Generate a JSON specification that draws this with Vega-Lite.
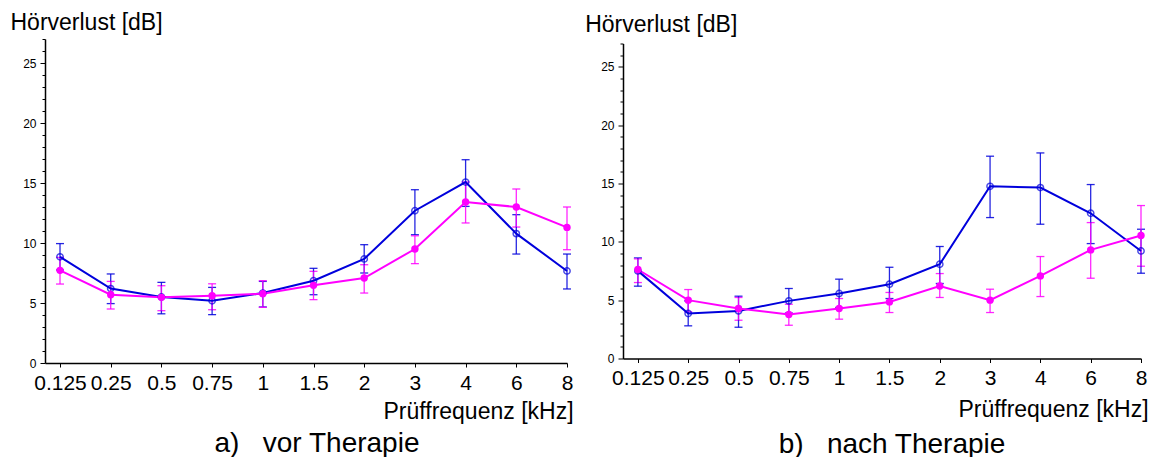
{
  "$schema": "https://vega.github.io/schema/vega-lite/v6.json",
  "background": "white",
  "padding": {"left": 10, "top": 11, "right": 2, "bottom": 0},
  "config": {
    "font": "Liberation Sans",
    "view": {"stroke": null},
    "axis": {"grid": false, "domainColor": "black", "tickColor": "black", "labelColor": "black", "titleColor": "black", "titleFontWeight": "normal", "labelFlush": false, "labelOverlap": false},
    "title": {"fontWeight": "normal", "color": "black"}
  },
  "datasets": {
    "messwerte": [
      {"panel": "a", "gruppe": "Gruppe 1", "freq": "0.125", "value": 8.85, "lo": 7.75, "hi": 9.95},
      {"panel": "a", "gruppe": "Gruppe 1", "freq": "0.25", "value": 6.2, "lo": 4.95, "hi": 7.42},
      {"panel": "a", "gruppe": "Gruppe 1", "freq": "0.5", "value": 5.5, "lo": 4.1, "hi": 6.72},
      {"panel": "a", "gruppe": "Gruppe 1", "freq": "0.75", "value": 5.19, "lo": 4.03, "hi": 6.3},
      {"panel": "a", "gruppe": "Gruppe 1", "freq": "1", "value": 5.83, "lo": 4.67, "hi": 6.8},
      {"panel": "a", "gruppe": "Gruppe 1", "freq": "1.5", "value": 6.86, "lo": 5.69, "hi": 7.89},
      {"panel": "a", "gruppe": "Gruppe 1", "freq": "2", "value": 8.67, "lo": 7.5, "hi": 9.86},
      {"panel": "a", "gruppe": "Gruppe 1", "freq": "3", "value": 12.69, "lo": 10.69, "hi": 14.44},
      {"panel": "a", "gruppe": "Gruppe 1", "freq": "4", "value": 15.08, "lo": 13.05, "hi": 16.94},
      {"panel": "a", "gruppe": "Gruppe 1", "freq": "6", "value": 10.78, "lo": 9.08, "hi": 12.36},
      {"panel": "a", "gruppe": "Gruppe 1", "freq": "8", "value": 7.67, "lo": 6.17, "hi": 9.08},
      {"panel": "a", "gruppe": "Gruppe 2", "freq": "0.125", "value": 7.72, "lo": 6.58, "hi": 8.8},
      {"panel": "a", "gruppe": "Gruppe 2", "freq": "0.25", "value": 5.69, "lo": 4.5, "hi": 6.8},
      {"panel": "a", "gruppe": "Gruppe 2", "freq": "0.5", "value": 5.47, "lo": 4.36, "hi": 6.44},
      {"panel": "a", "gruppe": "Gruppe 2", "freq": "0.75", "value": 5.61, "lo": 4.44, "hi": 6.6},
      {"panel": "a", "gruppe": "Gruppe 2", "freq": "1", "value": 5.78, "lo": 4.64, "hi": 6.86},
      {"panel": "a", "gruppe": "Gruppe 2", "freq": "1.5", "value": 6.47, "lo": 5.28, "hi": 7.64},
      {"panel": "a", "gruppe": "Gruppe 2", "freq": "2", "value": 7.08, "lo": 5.83, "hi": 8.19},
      {"panel": "a", "gruppe": "Gruppe 2", "freq": "3", "value": 9.5, "lo": 8.28, "hi": 10.6},
      {"panel": "a", "gruppe": "Gruppe 2", "freq": "4", "value": 13.42, "lo": 11.67, "hi": 15.08},
      {"panel": "a", "gruppe": "Gruppe 2", "freq": "6", "value": 13.0, "lo": 11.33, "hi": 14.5},
      {"panel": "a", "gruppe": "Gruppe 2", "freq": "8", "value": 11.3, "lo": 9.44, "hi": 13.0},
      {"panel": "b", "gruppe": "Gruppe 1", "freq": "0.125", "value": 7.51, "lo": 6.2, "hi": 8.62},
      {"panel": "b", "gruppe": "Gruppe 1", "freq": "0.25", "value": 3.86, "lo": 2.8, "hi": 4.94},
      {"panel": "b", "gruppe": "Gruppe 1", "freq": "0.5", "value": 4.08, "lo": 2.68, "hi": 5.34},
      {"panel": "b", "gruppe": "Gruppe 1", "freq": "0.75", "value": 4.94, "lo": 3.9, "hi": 6.0},
      {"panel": "b", "gruppe": "Gruppe 1", "freq": "1", "value": 5.57, "lo": 4.37, "hi": 6.8},
      {"panel": "b", "gruppe": "Gruppe 1", "freq": "1.5", "value": 6.37, "lo": 5.14, "hi": 7.82},
      {"panel": "b", "gruppe": "Gruppe 1", "freq": "2", "value": 8.08, "lo": 6.43, "hi": 9.6},
      {"panel": "b", "gruppe": "Gruppe 1", "freq": "3", "value": 14.76, "lo": 12.08, "hi": 17.34},
      {"panel": "b", "gruppe": "Gruppe 1", "freq": "4", "value": 14.65, "lo": 11.51, "hi": 17.62},
      {"panel": "b", "gruppe": "Gruppe 1", "freq": "6", "value": 12.45, "lo": 9.85, "hi": 14.91},
      {"panel": "b", "gruppe": "Gruppe 1", "freq": "8", "value": 9.22, "lo": 7.31, "hi": 11.08},
      {"panel": "b", "gruppe": "Gruppe 2", "freq": "0.125", "value": 7.63, "lo": 6.51, "hi": 8.54},
      {"panel": "b", "gruppe": "Gruppe 2", "freq": "0.25", "value": 5.0, "lo": 4.0, "hi": 5.91},
      {"panel": "b", "gruppe": "Gruppe 2", "freq": "0.5", "value": 4.28, "lo": 3.28, "hi": 5.23},
      {"panel": "b", "gruppe": "Gruppe 2", "freq": "0.75", "value": 3.77, "lo": 2.85, "hi": 4.65},
      {"panel": "b", "gruppe": "Gruppe 2", "freq": "1", "value": 4.28, "lo": 3.37, "hi": 5.14},
      {"panel": "b", "gruppe": "Gruppe 2", "freq": "1.5", "value": 4.85, "lo": 3.94, "hi": 5.66},
      {"panel": "b", "gruppe": "Gruppe 2", "freq": "2", "value": 6.22, "lo": 5.23, "hi": 7.28},
      {"panel": "b", "gruppe": "Gruppe 2", "freq": "3", "value": 5.0, "lo": 3.94, "hi": 5.94},
      {"panel": "b", "gruppe": "Gruppe 2", "freq": "4", "value": 7.08, "lo": 5.31, "hi": 8.74},
      {"panel": "b", "gruppe": "Gruppe 2", "freq": "6", "value": 9.31, "lo": 6.88, "hi": 11.65},
      {"panel": "b", "gruppe": "Gruppe 2", "freq": "8", "value": 10.54, "lo": 7.91, "hi": 13.11}
    ]
  },
  "data": {"name": "messwerte"},
  "bounds": "flush",
  "center": true,
  "spacing": 56,
  "hconcat": [
    {
      "width": 522,
      "height": 324,
      "transform": [{"filter": "datum.panel === 'a'"}],
      "title": {"text": "a)\u00a0\u00a0 vor Therapie", "orient": "bottom", "anchor": "middle", "frame": "group", "dx": 11, "offset": 29, "baseline": "alphabetic", "fontSize": 28},
      "encoding": {
        "x": {
          "field": "freq", "type": "ordinal",
          "scale": {"type": "point", "domain": ["0.125", "0.25", "0.5", "0.75", "1", "1.5", "2", "3", "4", "6", "8"], "padding": 0.148, "align": 1},
          "axis": {"title": "Prüffrequenz [kHz]", "titleX": 433, "titleY": 55, "titleAlign": "center", "titleAnchor": null, "titleBaseline": "alphabetic", "titleFontSize": 23, "labelAngle": 0, "labelFontSize": 21, "labelPadding": 5, "tickSize": 4, "domainWidth": 1.5, "labelBaseline": "top"}
        },
        "y": {"field": "value", "type": "quantitative", "scale": {"domain": [0, 27], "nice": false},
          "axis": {"title": "Hörverlust [dB]", "titleAngle": 0, "titleX": -35, "titleY": -10, "titleAlign": "left", "titleBaseline": "alphabetic", "titleFontSize": 23, "values": [0,1,2,3,4,5,6,7,8,9,10,11,12,13,14,15,16,17,18,19,20,21,22,23,24,25,26,27], "labelExpr": "datum.value % 5 === 0 ? datum.label : ''", "labelFontSize": 12, "labelPadding": 4, "tickSize": {"condition": {"test": "datum.value % 5 === 0", "value": 5}, "value": 3}, "domainWidth": 1.5}},
        "color": {"field": "gruppe", "type": "nominal", "scale": {"domain": ["Gruppe 1", "Gruppe 2"], "range": ["#0000dc", "#ff00ff"]}, "legend": null}
      },
      "layer": [
        {
          "mark": {"type": "errorbar", "ticks": {"size": 8}, "thickness": 1.3, "opacity": 0.85},
          "encoding": {
            "y": {"field": "lo", "type": "quantitative", "title": "Hörverlust [dB]"},
            "y2": {"field": "hi"}
          }
        },
        {
          "mark": {"type": "line", "strokeWidth": 2}
        },
        {
          "transform": [{"filter": "datum.gruppe === 'Gruppe 1'"}],
          "mark": {"type": "point", "filled": false, "size": 40, "strokeWidth": 1.5}
        },
        {
          "transform": [{"filter": "datum.gruppe === 'Gruppe 2'"}],
          "mark": {"type": "circle", "size": 55, "opacity": 1}
        }
      ]
    },
    {
      "width": 518,
      "height": 315,
      "transform": [{"filter": "datum.panel === 'b'"}],
      "title": {"text": "b)\u00a0\u00a0 nach Therapie", "orient": "bottom", "anchor": "middle", "frame": "group", "dx": 10, "offset": 31, "baseline": "alphabetic", "fontSize": 28},
      "encoding": {
        "x": {
          "field": "freq", "type": "ordinal",
          "scale": {"type": "point", "domain": ["0.125", "0.25", "0.5", "0.75", "1", "1.5", "2", "3", "4", "6", "8"], "padding": 0.148, "align": 1},
          "axis": {"title": "Prüffrequenz [kHz]", "titleX": 430, "titleY": 58, "titleAlign": "center", "titleAnchor": null, "titleBaseline": "alphabetic", "titleFontSize": 23, "labelAngle": 0, "labelFontSize": 21, "labelPadding": 5, "tickSize": 4, "domainWidth": 1.5, "labelBaseline": "top"}
        },
        "y": {"field": "value", "type": "quantitative", "scale": {"domain": [0, 27], "nice": false},
          "axis": {"title": "Hörverlust [dB]", "titleAngle": 0, "titleX": -38.3, "titleY": -12, "titleAlign": "left", "titleBaseline": "alphabetic", "titleFontSize": 23, "values": [0,1,2,3,4,5,6,7,8,9,10,11,12,13,14,15,16,17,18,19,20,21,22,23,24,25,26,27], "labelExpr": "datum.value % 5 === 0 ? datum.label : ''", "labelFontSize": 12, "labelPadding": 4, "tickSize": {"condition": {"test": "datum.value % 5 === 0", "value": 5}, "value": 3}, "domainWidth": 1.5}},
        "color": {"field": "gruppe", "type": "nominal", "scale": {"domain": ["Gruppe 1", "Gruppe 2"], "range": ["#0000dc", "#ff00ff"]}, "legend": null}
      },
      "layer": [
        {
          "mark": {"type": "errorbar", "ticks": {"size": 8}, "thickness": 1.3, "opacity": 0.85},
          "encoding": {
            "y": {"field": "lo", "type": "quantitative", "title": "Hörverlust [dB]"},
            "y2": {"field": "hi"}
          }
        },
        {
          "mark": {"type": "line", "strokeWidth": 2}
        },
        {
          "transform": [{"filter": "datum.gruppe === 'Gruppe 1'"}],
          "mark": {"type": "point", "filled": false, "size": 40, "strokeWidth": 1.5}
        },
        {
          "transform": [{"filter": "datum.gruppe === 'Gruppe 2'"}],
          "mark": {"type": "circle", "size": 55, "opacity": 1}
        }
      ]
    }
  ]
}
